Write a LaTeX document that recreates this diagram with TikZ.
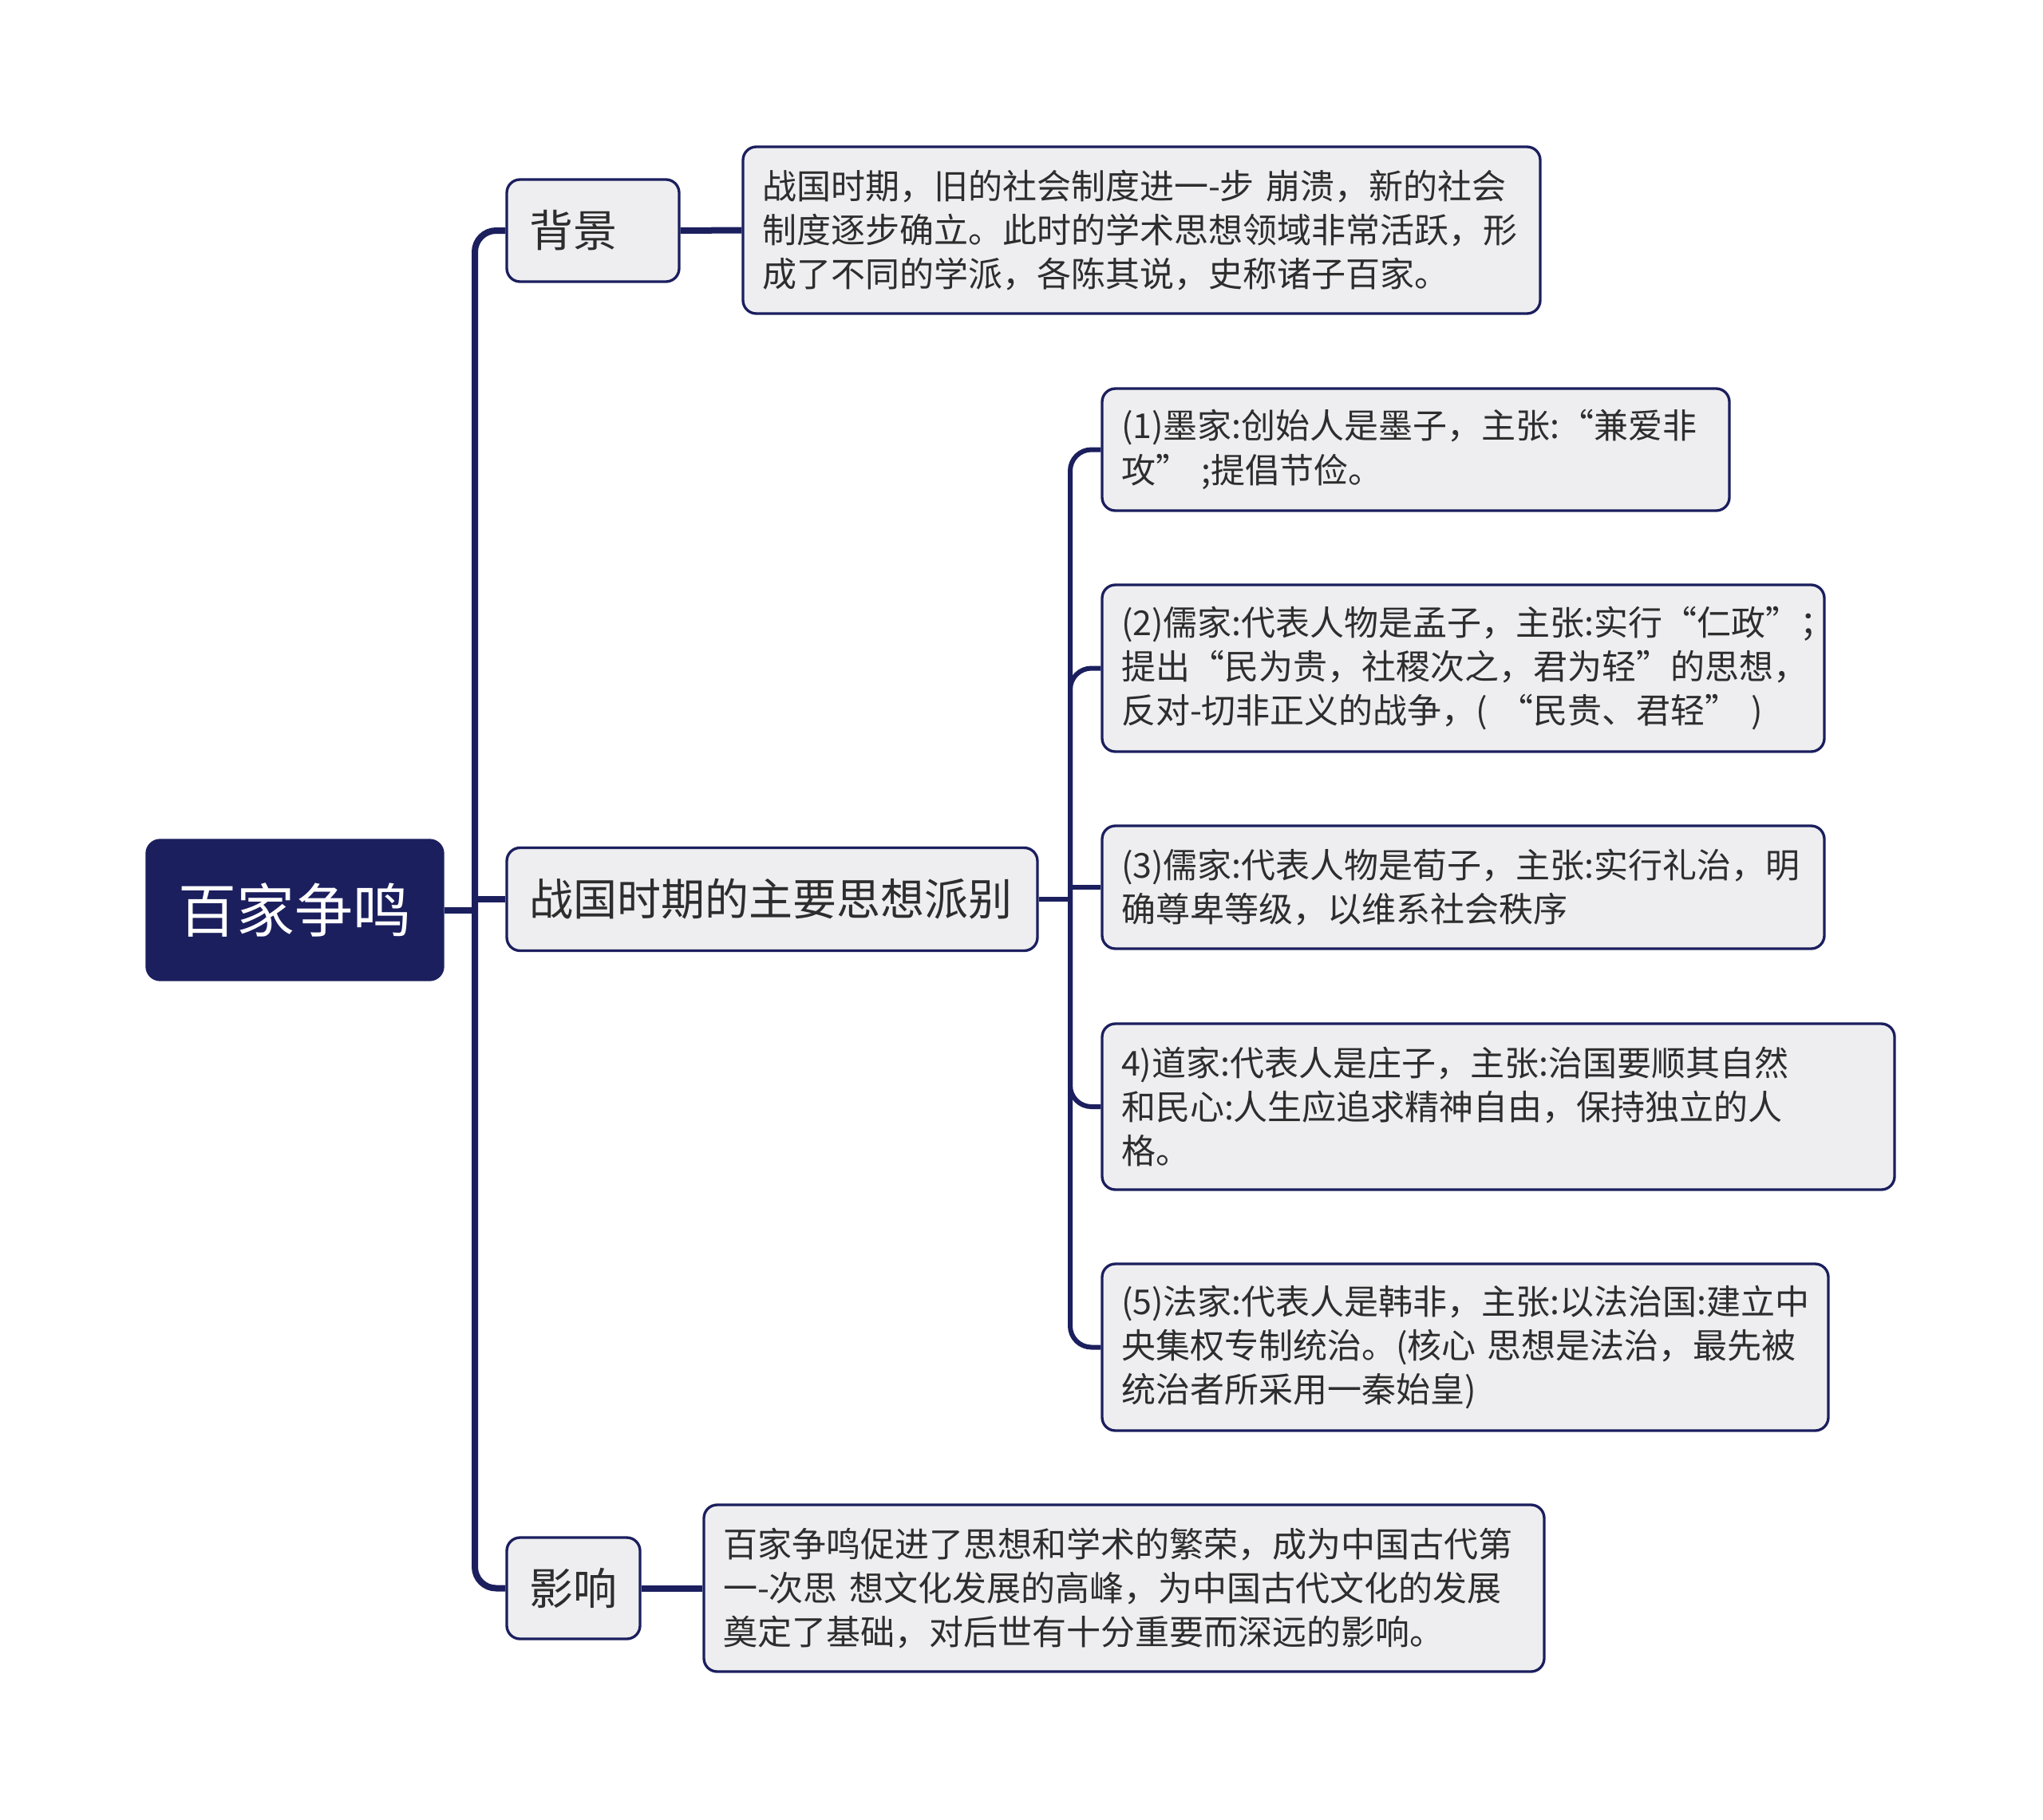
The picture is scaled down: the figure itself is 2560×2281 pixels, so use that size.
\documentclass[tikz,border=0pt]{standalone}
\usepackage{fontspec}
\setmainfont{Noto Sans CJK SC}
\definecolor{navy}{RGB}{27,31,94}
\definecolor{boxfill}{RGB}{238,238,240}
\definecolor{txt}{RGB}{45,45,45}
\tikzset{
  base/.style={draw=navy, line width=1pt, fill=boxfill, rounded corners=5pt, text=txt, inner ysep=0pt},
  body/.style={base, align=left, font=\fontsize{12.9pt}{16.6pt}\selectfont, inner xsep=7.2pt},
  title/.style={base, align=left, font=\fontsize{16.5pt}{19pt}\selectfont, inner xsep=8.5pt},
  rootbox/.style={draw=navy, line width=1pt, fill=navy, rounded corners=5pt, text=white, align=center,
     font=\fontsize{21.9pt}{24pt}\selectfont, inner xsep=10pt, inner ysep=0pt},
  mainline/.style={draw=navy, line width=2.4pt},
  subline/.style={draw=navy, line width=1.8pt},
}
\begin{document}
\begin{tikzpicture}[x=0.3pt, y=-0.3pt]
\useasboundingbox[fill=white] (0,0) rectangle (2560,2281);

% root
\node[rootbox, minimum width=111.3pt, minimum height=52.5pt, text width=91.3pt] (root) at (369.5,1140.5) {百家争鸣};

% first level
\node[title, minimum width=64.8pt, minimum height=38.4pt, text width=47.8pt] (bg) at (743,289) {背景};
\node[title, minimum width=199.5pt, minimum height=38.7pt, text width=182.5pt] (zg) at (967.5,1127) {战国时期的主要思想派别};
\node[title, minimum width=50.1pt, minimum height=38.1pt, text width=33.1pt] (yx) at (718.5,1990.5) {影响};

% text boxes
\node[body, minimum width=299.7pt, minimum height=62.7pt, text width=285.3pt] (t1) at (1430.5,288.5)
  {战国时期，旧的社会制度进一-步 崩溃，新的社会\\制度逐步确立。此时的学术思想领域非常活跃，形\\成了不同的学派，各陈其说，史称诸子百家。};
\node[body, minimum width=315.9pt, minimum height=62.7pt, text width=301.5pt] (t3) at (1408.5,1990.5)
  {百家争鸣促进了思想和学术的繁荣，成为中国古代第\\一-次思 想文化发展的高峰，为中国古代文化的发展\\奠定了基础，对后世有十分重要而深远的影响。};

% schools
\node[body, minimum width=235.8pt, minimum height=45.9pt, text width=221.4pt] (i1) at (1774,563.5)
  {(1)墨家:创始人是墨子，主张:“兼爱非\\攻” ;提倡节俭。};
\node[body, minimum width=271.5pt, minimum height=62.7pt, text width=257.1pt] (i2) at (1833.5,837.5)
  {(2)儒家:代表人物是孟子，主张:实行“仁政”；\\提出“民为贵，社稷次之，君为轻"的思想，\\反对-切非正义的战争，( “民贵、君轻” )};
\node[body, minimum width=271.5pt, minimum height=46.2pt, text width=257.1pt] (i3) at (1833.5,1112)
  {(3)儒家:代表人物是荀子，主张:实行礼治，明\\确尊卑等级，以维系社会秩序};
\node[body, minimum width=297.9pt, minimum height=62.4pt, text width=283.5pt] (i4) at (1877.5,1387)
  {4)道家:代表人是庄子，主张:治国要顺其自然\\和民心:人生应追求精神自由，保持独立的人\\格。};
\node[body, minimum width=273pt, minimum height=62.7pt, text width=258.6pt] (i5) at (1836,1688.5)
  {(5)法家:代表人是韩非，主张:以法治国:建立中\\央集权专制统治。(核心 思想是法治，最先被\\统治者所采用一秦始皇)};

% junctions
\coordinate (j0) at (595,1140.5);
\coordinate (j1) at (1341,1127);

% connectors
\draw[mainline] (root.east) -- (j0);
\draw[mainline, rounded corners=8pt] (j0) |- (bg.west);
\draw[mainline] (j0) |- (zg.west);
\draw[mainline, rounded corners=8pt] (j0) |- (yx.west);
\draw[mainline] (bg.east) -- (t1.west);
\draw[mainline] (yx.east) -- (t3.west);

\draw[subline] (zg.east) -- (j1);
\draw[subline, rounded corners=8pt] (j1) |- (i1.west);
\draw[subline, rounded corners=8pt] (j1) |- (i2.west);
\draw[subline] (j1) |- (i3.west);
\draw[subline, rounded corners=8pt] (j1) |- (i4.west);
\draw[subline, rounded corners=8pt] (j1) |- (i5.west);
\end{tikzpicture}
\end{document}
